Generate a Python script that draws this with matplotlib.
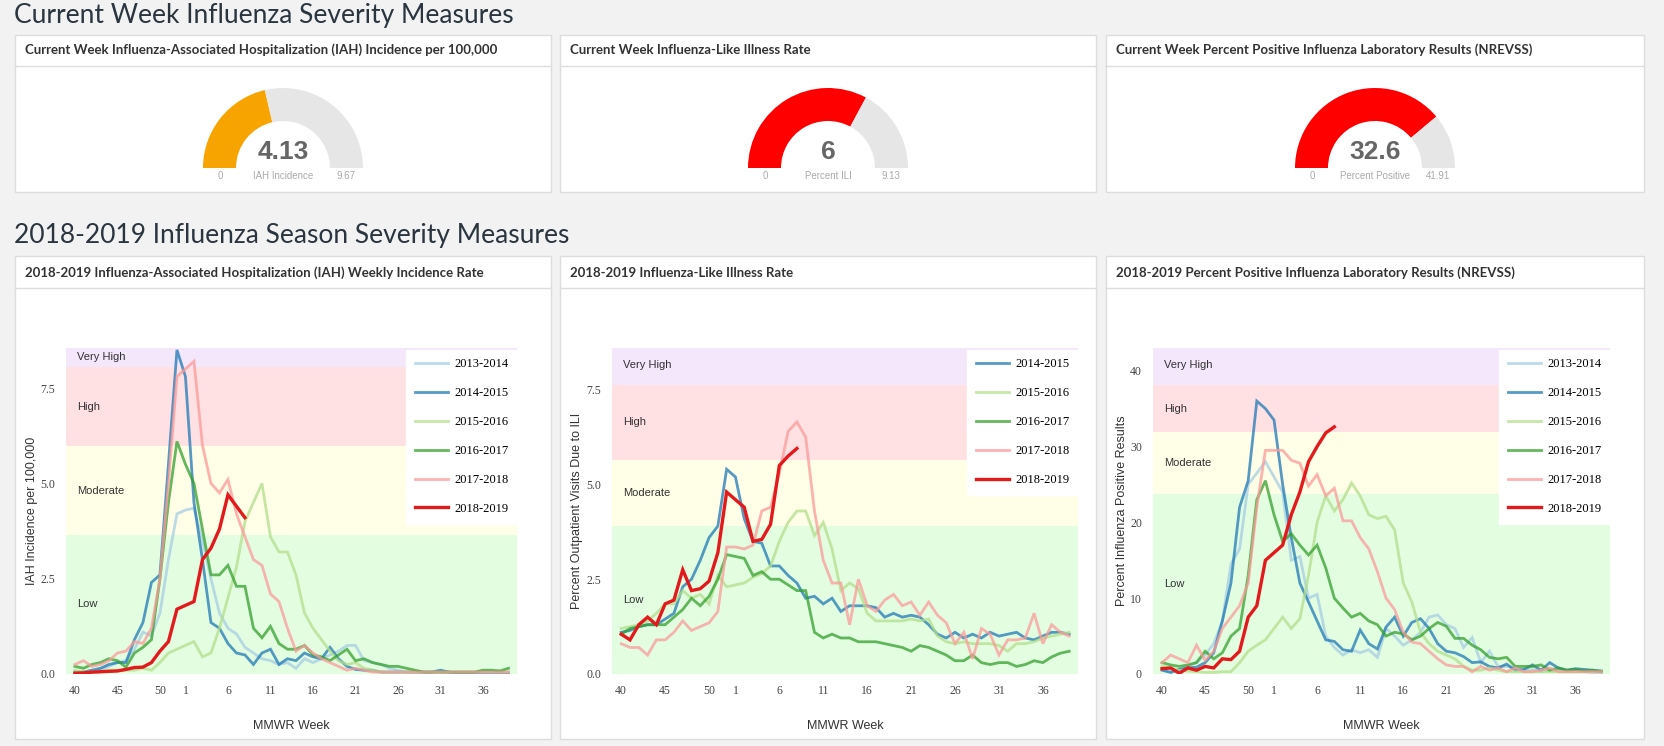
import numpy as np
import matplotlib
matplotlib.use('Agg')
import matplotlib.pyplot as plt
from matplotlib.patches import Rectangle, Wedge

# ── Data ──────────────────────────────────────────────────────────────────────
SEASONS = ['2013-2014', '2014-2015', '2015-2016', '2016-2017', '2017-2018', '2018-2019']
COLORS = {'2013-2014': '#a6cee3', '2014-2015': '#1f78b4', '2015-2016': '#b2df8a',
          '2016-2017': '#33a02c', '2017-2018': '#fb9a99', '2018-2019': '#e31a1c'}

# MMWR weeks 40..52 then 1..39
WEEK_TICK_POS = [0, 5, 10, 13, 18, 23, 28, 33, 38, 43, 48]
WEEK_TICK_LAB = ['40', '45', '50', '1', '6', '11', '16', '21', '26', '31', '36']

iah = {
    '2013-2014': [0.05, 0.05, 0.05, 0.1, 0.2, 0.3, 0.35, 0.65, 1.1, 1.0, 1.6, 3.0, 4.2, 4.3, 4.35, 3.5,
                  2.5, 1.6, 1.2, 1.05, 0.7, 0.55, 0.4, 0.35, 0.25, 0.3, 0.15, 0.4, 0.3, 0.4, 0.5, 0.6,
                  0.75, 0.75, 0.35, 0.3, 0.25, 0.15, 0.1, 0.05, 0.05, 0.05, 0.05, 0.05, 0.05, 0.05,
                  0.05, 0.05, 0.05, 0.05, 0.05, 0.05],
    '2014-2015': [0.05, 0.05, 0.1, 0.15, 0.25, 0.3, 0.3, 0.9, 1.35, 2.4, 2.6, 5.5, 8.5, 7.8, 4.5, 3.0,
                  1.35, 1.2, 0.8, 0.55, 0.5, 0.25, 0.55, 0.65, 0.25, 0.4, 0.35, 0.55, 0.45, 0.4, 0.7,
                  0.4, 0.2, 0.12, 0.1, 0.1, 0.05, 0.05, 0.05, 0.05, 0.05, 0.05, 0.05, 0.1, 0.05, 0.03,
                  0.03, 0.03, 0.03, 0.03, 0.03, 0.03],
    '2015-2016': [0.1, 0.05, 0.05, 0.05, 0.1, 0.1, 0.1, 0.1, 0.15, 0.1, 0.3, 0.55, 0.65, 0.75, 0.85, 0.45,
                  0.55, 1.2, 2.0, 2.8, 4.0, 4.5, 5.0, 3.6, 3.2, 3.2, 2.6, 1.6, 1.2, 0.9, 0.6, 0.35,
                  0.25, 0.3, 0.15, 0.1, 0.05, 0.05, 0.05, 0.05, 0.05, 0.05, 0.05, 0.05, 0.05, 0.05,
                  0.05, 0.05, 0.05, 0.05, 0.05, 0.05],
    '2016-2017': [0.2, 0.15, 0.25, 0.3, 0.4, 0.35, 0.18, 0.55, 0.7, 0.9, 2.5, 4.5, 6.1, 5.5, 5.0, 3.8,
                  2.6, 2.6, 2.85, 2.3, 2.3, 1.2, 0.95, 1.25, 0.8, 0.65, 0.65, 0.75, 0.5, 0.45, 0.35,
                  0.5, 0.65, 0.35, 0.4, 0.3, 0.25, 0.2, 0.2, 0.15, 0.1, 0.05, 0.05, 0.05, 0.05, 0.05,
                  0.05, 0.05, 0.1, 0.1, 0.08, 0.15],
    '2017-2018': [0.25, 0.35, 0.2, 0.25, 0.35, 0.55, 0.6, 0.85, 0.8, 1.2, 2.5, 5.0, 7.8, 8.0, 8.2, 6.0,
                  5.0, 4.75, 5.1, 4.2, 3.6, 3.0, 2.85, 2.1, 1.9, 1.2, 0.6, 0.75, 0.55, 0.4, 0.3, 0.2,
                  0.1, 0.15, 0.1, 0.05, 0.05, 0.05, 0.05, 0.05, 0.05, 0.05, 0.05, 0.05, 0.05, 0.05,
                  0.05, 0.05, 0.05, 0.05, 0.05, 0.05],
    '2018-2019': [0.02, 0.03, 0.05, 0.06, 0.07, 0.08, 0.12, 0.17, 0.18, 0.3, 0.6, 0.85, 1.7, 1.8, 1.9,
                  3.0, 3.3, 3.8, 4.7, 4.4, 4.1],
}

ili = {
    '2014-2015': [1.1, 1.15, 1.25, 1.3, 1.3, 1.45, 1.6, 2.3, 2.5, 3.0, 3.6, 3.9, 5.4, 5.2, 4.1, 3.5,
                  3.45, 2.85, 2.85, 2.6, 2.4, 2.0, 2.05, 1.85, 2.0, 1.65, 1.8, 1.8, 1.8, 1.75, 1.5,
                  1.6, 1.5, 1.55, 1.5, 1.3, 1.05, 0.95, 1.1, 0.95, 1.05, 0.95, 1.1, 1.0, 1.05, 1.1,
                  0.95, 0.9, 1.0, 1.1, 1.1, 1.05],
    '2015-2016': [1.2, 1.25, 1.3, 1.4, 1.6, 1.85, 1.85, 2.2, 2.0, 2.1, 1.85, 2.6, 2.3, 2.35, 2.4, 2.55,
                  2.65, 2.85, 3.5, 4.0, 4.3, 4.3, 3.65, 4.0, 3.3, 2.2, 2.4, 2.25, 1.6, 1.4, 1.4, 1.4,
                  1.4, 1.45, 1.4, 1.45, 1.0, 0.85, 0.8, 0.85, 0.8, 0.8, 0.8, 0.75, 0.6, 0.8, 0.8,
                  0.85, 0.95, 1.0, 1.05, 1.1],
    '2016-2017': [1.05, 1.2, 1.25, 1.3, 1.3, 1.3, 1.5, 1.7, 2.0, 1.8, 2.05, 2.5, 3.15, 3.1, 3.05, 2.6,
                  2.7, 2.5, 2.5, 2.35, 2.2, 2.2, 1.1, 0.95, 1.05, 0.95, 0.95, 0.85, 0.85, 0.85, 0.8,
                  0.75, 0.7, 0.6, 0.75, 0.7, 0.6, 0.5, 0.35, 0.35, 0.5, 0.3, 0.25, 0.3, 0.3, 0.2, 0.25,
                  0.35, 0.3, 0.45, 0.55, 0.6],
    '2017-2018': [0.8, 0.7, 0.7, 0.5, 0.9, 0.9, 1.1, 1.4, 1.15, 1.25, 1.35, 1.65, 3.35, 3.35, 3.3, 3.4,
                  4.3, 4.4, 5.3, 6.4, 6.65, 6.25, 4.3, 3.0, 2.4, 2.4, 1.3, 2.5, 1.8, 1.65, 1.95, 2.1,
                  1.8, 1.9, 1.55, 1.9, 1.55, 1.35, 0.8, 1.1, 0.4, 1.2, 1.05, 0.5, 0.9, 0.9, 0.95, 1.6,
                  0.8, 1.3, 1.1, 1.0],
    '2018-2019': [1.05, 0.9, 1.3, 1.5, 1.3, 1.85, 1.95, 2.75, 2.2, 2.25, 2.45, 3.2, 4.8, 4.6, 4.4, 3.5,
                  3.55, 3.95, 5.5, 5.75, 5.95],
}

pos = {
    '2013-2014': [0.6, 0.3, 0.6, 1.0, 1.5, 2.5, 4.0, 7.0, 14.5, 16.5, 25.0, 26.5, 28.0, 26.0, 24.0, 15.0,
                  15.5, 10.0, 10.5, 5.0, 3.5, 2.5, 3.2, 2.8, 3.2, 2.2, 6.0, 5.0, 3.8, 4.5, 5.5, 7.5,
                  7.8, 6.5, 6.0, 3.5, 4.8, 1.5, 3.0, 1.0, 1.0, 0.8, 0.5, 0.6, 0.3, 0.5, 0.5, 0.3, 0.4,
                  0.3, 0.2, 0.2],
    '2014-2015': [0.5, 0.2, 0.6, 0.8, 0.9, 1.5, 2.8, 7.0, 12.0, 22.0, 25.5, 36.0, 35.0, 33.5, 25.0, 18.0,
                  12.0, 9.5, 7.0, 4.5, 4.3, 3.2, 3.0, 5.8, 4.0, 3.3, 6.2, 7.5, 5.0, 6.8, 7.3, 6.0, 4.0,
                  3.0, 2.8, 2.3, 1.5, 1.6, 1.0, 0.8, 1.3, 0.5, 0.6, 1.2, 0.5, 1.5, 0.8, 0.5, 0.7, 0.6,
                  0.5, 0.4],
    '2015-2016': [1.0, 0.8, 0.5, 0.4, 0.3, 0.2, 0.2, 0.3, 0.3, 1.5, 3.0, 3.8, 4.5, 6.0, 7.5, 6.0, 7.3,
                  13.0, 20.0, 23.5, 21.5, 23.0, 25.2, 23.5, 21.0, 20.5, 20.8, 19.0, 12.0, 9.5, 5.5, 4.0,
                  3.0, 2.5, 2.0, 1.0, 0.5, 0.5, 0.8, 0.5, 0.3, 0.3, 0.3, 0.3, 0.3, 0.3, 0.3, 0.3, 0.3,
                  0.3, 0.3, 0.3],
    '2016-2017': [1.5, 1.2, 1.0, 1.2, 1.5, 3.0, 2.0, 2.8, 5.0, 6.0, 13.0, 23.0, 25.5, 21.0, 17.5, 18.5,
                  17.0, 15.7, 17.0, 14.0, 10.0, 8.7, 7.5, 8.0, 7.0, 6.5, 5.0, 5.5, 5.3, 4.5, 5.0, 6.0,
                  6.8, 6.3, 4.7, 4.7, 3.8, 3.2, 2.2, 2.0, 2.2, 1.0, 1.0, 1.0, 1.2, 0.5, 0.8, 0.5, 0.6,
                  0.4, 0.5, 0.3],
    '2017-2018': [1.5, 2.5, 2.0, 1.5, 3.8, 1.8, 3.0, 6.0, 7.5, 9.0, 12.0, 22.0, 29.5, 29.5, 29.5, 28.2,
                  27.8, 24.8, 26.3, 23.5, 24.5, 20.2, 20.2, 18.0, 16.5, 13.5, 10.0, 8.5, 5.5, 4.2, 4.0,
                  3.0, 2.0, 1.2, 1.0, 1.0, 0.3, 1.0, 0.5, 0.8, 0.3, 0.8, 0.3, 0.3, 0.5, 0.8, 0.3, 0.3,
                  0.3, 0.3, 0.3, 0.3],
    '2018-2019': [0.7, 0.8, 0.1, 0.8, 0.5, 1.0, 0.8, 2.0, 1.9, 3.0, 7.5, 9.0, 15.0, 16.0, 17.0, 21.0,
                  24.0, 28.0, 30.0, 31.8, 32.6],
}

# severity bands: (label, low, high, colour)
IAH_BANDS = [('Low', 0, 3.65), ('Moderate', 3.65, 5.97), ('High', 5.97, 8.04), ('Very High', 8.04, 8.55)]
ILI_BANDS = [('Low', 0, 3.9), ('Moderate', 3.9, 5.65), ('High', 5.65, 7.62), ('Very High', 7.62, 8.6)]
POS_BANDS = [('Low', 0, 23.8), ('Moderate', 23.8, 31.9), ('High', 31.9, 38.1), ('Very High', 38.1, 43.0)]
BAND_COL = {'Low': '#e3fde1', 'Moderate': '#fffee6', 'High': '#ffe1e4', 'Very High': '#f4e6fb'}

# gauges: (title, value, max, label, colour)
GAUGES = [
    ('Current Week Influenza-Associated Hospitalization (IAH) Incidence per 100,000', 4.13, 9.67, 'IAH Incidence', '#f8a400', '4.13'),
    ('Current Week Influenza-Like Illness Rate', 6.0, 9.13, 'Percent ILI', '#fe0000', '6'),
    ('Current Week Percent Positive Influenza Laboratory Results (NREVSS)', 32.6, 41.91, 'Percent Positive', '#fe0000', '32.6'),
]

W, H = 1665, 746
fig = plt.figure(figsize=(W / 100, H / 100), dpi=100, facecolor='#f2f2f2')
bg = fig.add_axes([0, 0, 1, 1])
bg.set_xlim(0, W)
bg.set_ylim(H, 0)
bg.axis('off')

PANEL_X = [(15, 551), (560, 1096), (1106, 1644)]
TITLE_FONT = 'Lato'


def panel(x0, x1, y0, y1, yline, title, ytxt):
    bg.add_patch(Rectangle((x0, y0), x1 - x0, y1 - y0, fc='white', ec='#dddddd', lw=1))
    bg.plot([x0, x1], [yline, yline], color='#dddddd', lw=1)
    bg.text(x0 + 10, ytxt, title, fontsize=9.5, fontweight='bold', color='#333333',
            family=TITLE_FONT, va='center', ha='left')


bg.text(14, 15, 'Current Week Influenza Severity Measures', fontsize=19, color='#2a3540',
        family=TITLE_FONT, va='center')
bg.text(14, 236, '2018-2019 Influenza Season Severity Measures', fontsize=19, color='#2a3540',
        family=TITLE_FONT, va='center')

# ── Gauges ─────────────────────────────────────────────────────────────────────
for (x0, x1), (title, val, vmax, lab, col, vtxt) in zip(PANEL_X, GAUGES):
    panel(x0, x1, 35, 192, 66, title, 50)
    cx, cy, r_out, r_in = (x0 + x1) / 2, 168, 80, 47
    ang = 180 + 180 * val / vmax
    bg.add_patch(Wedge((cx, cy), r_out, 180, ang, width=r_out - r_in, fc=col, ec='none'))
    bg.add_patch(Wedge((cx, cy), r_out, ang, 360, width=r_out - r_in, fc='#e6e6e6', ec='none'))
    bg.text(cx, 152, vtxt, fontsize=19, fontweight='bold', color='#666666', ha='center', va='center',
            family='Liberation Sans')
    bg.text(cx - 63, 176, '0', fontsize=7, color='#aaaaaa', ha='center', va='center', family='Liberation Sans')
    bg.text(cx + 63, 176, f'{vmax:g}', fontsize=7, color='#aaaaaa', ha='center', va='center', family='Liberation Sans')
    bg.text(cx, 176, lab, fontsize=7, color='#aaaaaa', ha='center', va='center', family='Liberation Sans')

# ── Season charts ─────────────────────────────────────────────────────────────
CHARTS = [
    ('2018-2019 Influenza-Associated Hospitalization (IAH) Weekly Incidence Rate', iah, IAH_BANDS,
     'IAH Incidence per 100,000', [0, 2.5, 5.0, 7.5], ['0.0', '2.5', '5.0', '7.5'], (66, 517), 32),
    ('2018-2019 Influenza-Like Illness Rate', ili, ILI_BANDS,
     'Percent Outpatient Visits Due to ILI', [0, 2.5, 5.0, 7.5], ['0.0', '2.5', '5.0', '7.5'], (612, 1078), 577),
    ('2018-2019 Percent Positive Influenza Laboratory Results (NREVSS)', pos, POS_BANDS,
     'Percent Influenza Positive Results', [0, 10, 20, 30, 40], ['0', '10', '20', '30', '40'], (1153, 1610), 1122),
]
AX_TOP, AX_BOT = 348, 674

for (x0, x1), (title, data, bands, ylab, yt, ytl, (ax0, ax1), ylx) in zip(PANEL_X, CHARTS):
    panel(x0, x1, 256, 739, 288, title, 273)
    ax = fig.add_axes([ax0 / W, 1 - AX_BOT / H, (ax1 - ax0) / W, (AX_BOT - AX_TOP) / H])
    ax.set_xlim(-1.05, 52)
    ax.set_ylim(0, bands[-1][2])
    for name, lo, hi in bands:
        ax.axhspan(lo, hi, color=BAND_COL[name], lw=0, zorder=0)
        ax.text(0.2, hi - (hi - lo) * (0.5 if name != 'Very High' else 0.45), name,
                fontsize=8, color='#333333', family='Liberation Sans', va='center', zorder=1)
    for s in SEASONS:
        if s not in data:
            continue
        vals = data[s]
        cur = s == '2018-2019'
        ax.plot(np.arange(len(vals)), vals, color=COLORS[s], lw=2.4 if cur else 2.0,
                alpha=1.0 if cur else 0.75, label=s, zorder=3 if cur else 2, solid_joinstyle='miter')
    ax.set_xticks(WEEK_TICK_POS)
    ax.set_xticklabels(WEEK_TICK_LAB)
    ax.set_yticks(yt)
    ax.set_yticklabels(ytl)
    ax.tick_params(length=0, labelsize=8.5, labelcolor='#444444', pad=8)
    for t in ax.get_xticklabels() + ax.get_yticklabels():
        t.set_family('Liberation Serif')
    for sp in ax.spines.values():
        sp.set_visible(False)
    ax.patch.set_alpha(0)
    leg = ax.legend(loc='upper right', bbox_to_anchor=(1.0, 0.995), frameon=True, fancybox=False,
                    framealpha=1, edgecolor='white', borderpad=0.7, labelspacing=1.35,
                    handlelength=2.6, handletextpad=0.5, borderaxespad=0,
                    prop={'family': 'Liberation Serif', 'size': 9})
    bg.text(ylx, (AX_TOP + AX_BOT) / 2, ylab, rotation=90, fontsize=9, color='#333333',
            family='Liberation Sans', ha='center', va='center')
    bg.text((ax0 + ax1) / 2, 726, 'MMWR Week', fontsize=9, color='#333333',
            family='Liberation Sans', ha='center', va='center')

fig.savefig('out.png', dpi=100, facecolor=fig.get_facecolor())
